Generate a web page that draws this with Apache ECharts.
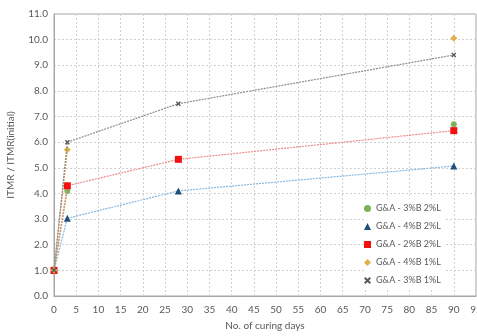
<!DOCTYPE html>
<html><head><meta charset="utf-8">
<script src="https://cdn.jsdelivr.net/npm/echarts@6/dist/echarts.min.js"></script>
<style>html,body{margin:0;padding:0;background:#fff}#c{width:477px;height:336px}</style>
</head><body><div id="c"></div>
<script>
const days = [0, 3, 28, 90];
const seriesNames = ['G&A - 3%B 2%L', 'G&A - 4%B 2%L', 'G&A - 2%B 2%L', 'G&A - 4%B 1%L', 'G&A - 3%B 1%L'];
const ga3b2l = [1.0, 4.1, null, 6.7];
const ga4b2l = [1.0, 3.03, 4.1, 5.07];
const ga2b2l = [1.0, 4.3, 5.33, 6.45];
const ga4b1l = [1.0, 5.7, null, 10.05];
const ga3b1l = [1.0, 6.0, 7.5, 9.4];
const xTicks = {min: 0, max: 95, interval: 5};
const yTicks = {min: 0, max: 11, interval: 1};

const xPath = 'path://M2,0L5,3L8,0L10,2L7,5L10,8L8,10L5,7L2,10L0,8L3,5L0,2Z';
const styles = [
  {sym: 'circle', size: 6, mk: '#7DB356', ln: '#8DBE6A'},
  {sym: 'triangle', size: 7, mk: '#1F4E79', ln: '#86B7E0'},
  {sym: 'rect', size: 7, mk: '#F01010', ln: '#EE8A8A'},
  {sym: 'diamond', size: 7, mk: '#E2B04A', ln: '#D4A23A'},
  {sym: xPath, size: 5, mk: '#595959', ln: '#8C8C8C'}
];
const values = [ga3b2l, ga4b2l, ga2b2l, ga4b1l, ga3b1l];
const font = 'Lato, "Open Sans", sans-serif';

const series = values.map((arr, k) => ({
  name: seriesNames[k],
  type: 'line',
  data: days.map((d, i) => [d, arr[i] === null ? '-' : arr[i]]),
  symbol: styles[k].sym,
  symbolSize: styles[k].size,
  showAllSymbol: true,
  connectNulls: false,
  itemStyle: {color: styles[k].mk},
  lineStyle: {color: styles[k].ln, width: 1.2, type: [2, 1]},
  z: 2 + k
}));

const chart = echarts.init(document.getElementById('c'), null, {renderer: 'canvas'});
chart.setOption({
  animation: false,
  backgroundColor: '#fff',
  textStyle: {fontFamily: font},
  grid: {left: 54, right: 1, top: 14, bottom: 40, show: true, borderColor: '#a6a6a6', borderWidth: 1,
         containLabel: false, outerBoundsMode: 'none'},
  legend: {
    orient: 'vertical', left: 364, top: 199,
    itemWidth: 7, itemHeight: 7, itemGap: 7, itemTextGap: 3,
    backgroundColor: '#fff', padding: [4, 5, 4, 0],
    textStyle: {color: '#595959', fontSize: 9, lineHeight: 11, fontFamily: font},
    data: seriesNames.map((n, k) => ({name: n, icon: styles[k].sym}))
  },
  xAxis: {
    type: 'value', min: xTicks.min, max: xTicks.max, interval: xTicks.interval,
    name: 'No. of curing days', nameLocation: 'middle', nameGap: 25,
    nameTextStyle: {color: '#595959', fontSize: 10, fontFamily: font},
    axisLine: {show: true, lineStyle: {color: '#a6a6a6'}},
    axisTick: {show: false},
    axisLabel: {color: '#595959', fontSize: 10, margin: 9, showMaxLabel: true, hideOverlap: false},
    splitLine: {show: true, lineStyle: {color: '#d0d0d0', type: [2, 2]}}
  },
  yAxis: {
    type: 'value', min: yTicks.min, max: yTicks.max, interval: yTicks.interval,
    name: 'ITMR / ITMR(initial)', nameLocation: 'middle', nameGap: 38,
    nameTextStyle: {color: '#595959', fontSize: 10, fontFamily: font},
    axisLine: {show: true, lineStyle: {color: '#a6a6a6'}},
    axisTick: {show: false},
    axisLabel: {color: '#595959', fontSize: 10, margin: 6, formatter: v => v.toFixed(1)},
    splitLine: {show: true, lineStyle: {color: '#d0d0d0', type: [2, 2]}}
  },
  series: series
});
</script></body></html>
